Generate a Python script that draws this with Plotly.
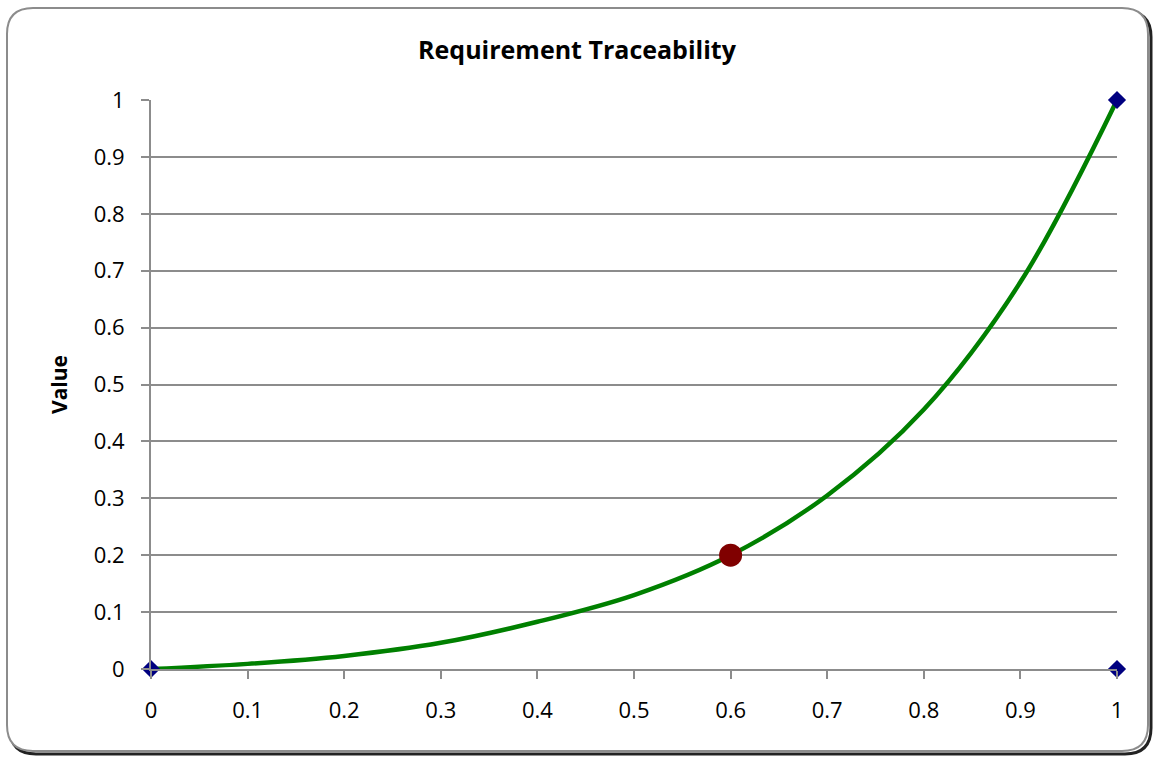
import plotly.graph_objects as go

# Data
curve_x = [0, 0.1, 0.2, 0.3, 0.4, 0.5, 0.6, 0.7, 0.8, 0.9, 1.0]
curve_y = [0, 0.009, 0.023, 0.046, 0.083, 0.13, 0.2, 0.305, 0.456, 0.68, 1.0]
corner_x = [0, 1, 1]
corner_y = [0, 1, 0]
point_x = [0.6]
point_y = [0.2]
tick_vals = [0, 0.1, 0.2, 0.3, 0.4, 0.5, 0.6, 0.7, 0.8, 0.9, 1]
tick_text = ["0", "0.1", "0.2", "0.3", "0.4", "0.5", "0.6", "0.7", "0.8", "0.9", "1"]

W, H = 1154, 757
L, R, T, B = 151, 1117, 100, 669


def px(x):
    return (x - L) / (R - L)


def py(y):
    return (B - y) / (B - T)


def rounded_rect(x0, y0, x1, y1, r):
    return (
        f"M {px(x0 + r)},{py(y0)} L {px(x1 - r)},{py(y0)} "
        f"Q {px(x1)},{py(y0)} {px(x1)},{py(y0 + r)} "
        f"L {px(x1)},{py(y1 - r)} Q {px(x1)},{py(y1)} {px(x1 - r)},{py(y1)} "
        f"L {px(x0 + r)},{py(y1)} Q {px(x0)},{py(y1)} {px(x0)},{py(y1 - r)} "
        f"L {px(x0)},{py(y0 + r)} Q {px(x0)},{py(y0)} {px(x0 + r)},{py(y0)} Z"
    )


fig = go.Figure()
fig.add_trace(go.Scatter(
    x=curve_x, y=curve_y, mode="lines",
    line=dict(color="#008000", width=4.5, shape="spline", smoothing=1.0),
    showlegend=False, cliponaxis=False, hoverinfo="skip",
))
fig.add_trace(go.Scatter(
    x=corner_x, y=corner_y, mode="markers",
    marker=dict(symbol="diamond", size=14, color="#000080"),
    showlegend=False, cliponaxis=False,
))
fig.add_trace(go.Scatter(
    x=point_x, y=point_y, mode="markers",
    marker=dict(symbol="circle", size=23, color="#800000"),
    showlegend=False, cliponaxis=False,
))

shapes = [
    dict(type="path", xref="paper", yref="paper", layer="below",
         path=rounded_rect(10, 11, 1151, 754, 26),
         line=dict(color="#222222", width=3)),
    dict(type="path", xref="paper", yref="paper", layer="below",
         path=rounded_rect(7, 8, 1148, 751, 26),
         fillcolor="white",
         line=dict(color="#8c8c8c", width=2)),
]

fig.update_layout(
    width=W, height=H,
    margin=dict(l=L, r=W - R, t=T, b=H - B),
    paper_bgcolor="white", plot_bgcolor="rgba(0,0,0,0)",
    font=dict(family="Open Sans", color="black"),
    title=dict(text="<b>Requirement Traceability</b>", x=0.5, xanchor="center",
               y=1 - 50 / H, yanchor="middle",
               font=dict(family="Open Sans", size=25, color="black")),
    shapes=shapes,
    xaxis=dict(
        range=[0, 1], tickvals=tick_vals, ticktext=tick_text,
        showgrid=False, zeroline=False,
        showline=True, linecolor="#8c8c8c", linewidth=2,
        ticks="outside", ticklen=8, tickcolor="#8c8c8c", tickwidth=2,
        tickfont=dict(family="Open Sans", size=22, color="black"),
        ticklabelstandoff=13,
        fixedrange=True,
    ),
    yaxis=dict(
        range=[0, 1], tickvals=tick_vals, ticktext=tick_text,
        showgrid=True, gridcolor="#8c8c8c", gridwidth=2,
        zeroline=False,
        showline=True, linecolor="#8c8c8c", linewidth=2,
        ticks="outside", ticklen=8, tickcolor="#8c8c8c", tickwidth=2,
        tickfont=dict(family="Open Sans", size=22, color="black"),
        ticklabelstandoff=12,
        title=dict(text="<b>Value</b>", font=dict(family="Open Sans", size=21, color="black"),
                   standoff=20),
        fixedrange=True,
    ),
)

fig.write_html("out.html", config={"displayModeBar": False},
               post_script="document.body.style.margin='0';document.body.style.padding='0';")
